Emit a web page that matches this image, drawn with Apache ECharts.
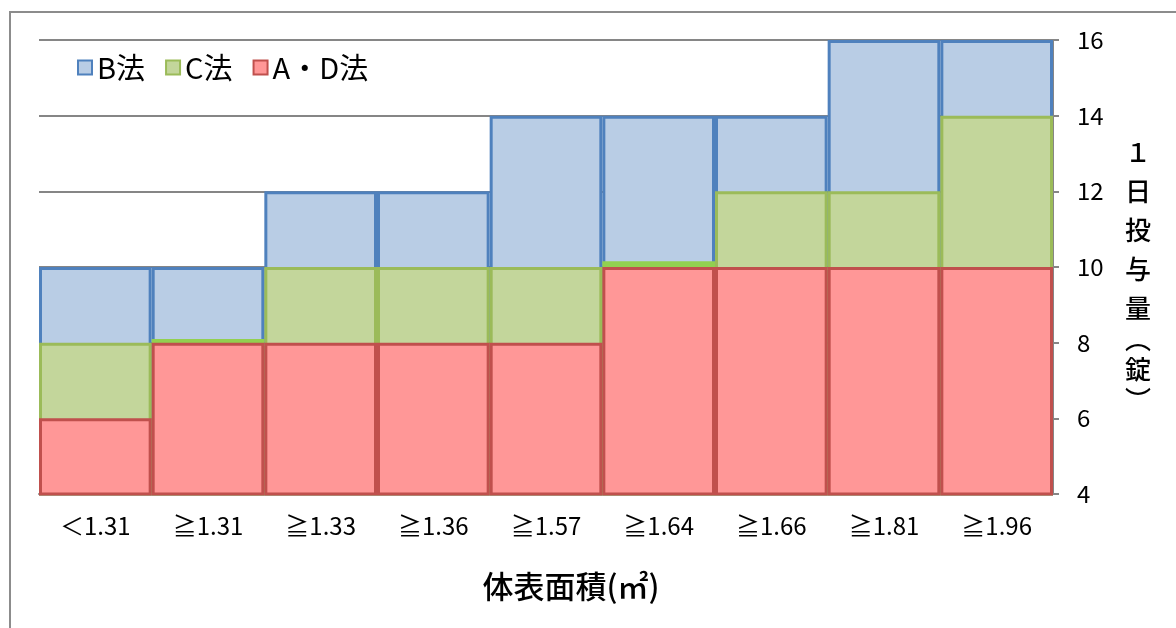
<!DOCTYPE html>
<html><head><meta charset="utf-8">
<script src="https://cdn.jsdelivr.net/npm/echarts@6/dist/echarts.min.js"></script>
<style>html,body{margin:0;padding:0;background:#fff}#c{width:1176px;height:628px}</style>
</head><body><div id="c"></div>
<script>
const categories = ['＜1.31','≧1.31','≧1.33','≧1.36','≧1.57','≧1.64','≧1.66','≧1.81','≧1.96'];
const seriesNames = ['B法','C法','A・D法'];
const totalB = [10,10,12,12,14,14,14,16,16];
const totalC = [8,8.1,10,10,10,10.15,12,12,14];
const totalAD = [6,8,8,8,8,10,10,10,10];
const yTicks = [4,6,8,10,12,14,16];

const font = '"Noto Sans CJK JP", "Noto Sans", sans-serif';
const chart = echarts.init(document.getElementById('c'), null, {renderer:'canvas'});
function bar(name, data, fill, border, thinIdx){
  return {
    name, type:'bar', data: data.map((v,i)=> thinIdx && thinIdx.includes(i) ? {value:v, itemStyle:{color:'#92D050', borderColor:'#92D050'}} : v),
    barGap:'-100%', barCategoryGap:0,
    itemStyle:{color:fill, borderColor:border, borderWidth:3},
    emphasis:{disabled:true}, animation:false
  };
}
chart.setOption({
  animation:false,
  textStyle:{fontFamily:font},
  graphic:[{type:'rect', shape:{x:10,y:12,width:1300,height:800}, style:{fill:'none', stroke:'#8c8c8c', lineWidth:2}, z:-10}],
  grid:{left:39, right:123, top:40, bottom:134},
  legend:{left:72, top:48, itemWidth:14, itemHeight:14, itemGap:20, icon:'rect',
    textStyle:{fontSize:29, color:'#000', fontFamily:font}, data:seriesNames},
  xAxis:{type:'category', data:categories,
    name:'体表面積(㎡)', nameLocation:'middle', nameGap:77,
    nameTextStyle:{fontSize:31, fontWeight:500, color:'#000', fontFamily:font, padding:[0,0,0,50]},
    axisLine:{lineStyle:{color:'#868686', width:2}},
    axisTick:{length:6, lineStyle:{color:'#868686', width:2}},
    axisLabel:{fontSize:24, color:'#000', margin:20, fontFamily:font}},
  yAxis:{type:'value', position:'right', min:yTicks[0], max:yTicks[yTicks.length-1], interval:2,
    name:'{a|１}\n{a|日}\n{a|投}\n{a|与}\n{a|量}\n{p|︵}\n{a|錠}\n{p|︶}', nameLocation:'middle', nameRotate:0, nameGap:72,
    nameTextStyle:{fontSize:26, color:'#000', fontFamily:font, padding:[10,0,0,0],
      rich:{a:{fontSize:26, fontWeight:500, lineHeight:39, color:'#000', fontFamily:font}, p:{fontSize:26, fontWeight:500, lineHeight:22, color:'#000', fontFamily:font}}},
    axisLine:{show:true, lineStyle:{color:'#868686', width:2}},
    axisTick:{show:true, length:6, lineStyle:{color:'#868686', width:2}},
    axisLabel:{fontSize:24, color:'#000', margin:24, fontFamily:font},
    splitLine:{lineStyle:{color:'#868686', width:2}}},
  series:[
    bar(seriesNames[0], totalB, '#B9CDE5', '#4F81BD'),
    bar(seriesNames[1], totalC, '#C3D69B', '#9BBB59', [1,5]),
    bar(seriesNames[2], totalAD, '#FF9797', '#C0504D')
  ]
});
</script></body></html>
